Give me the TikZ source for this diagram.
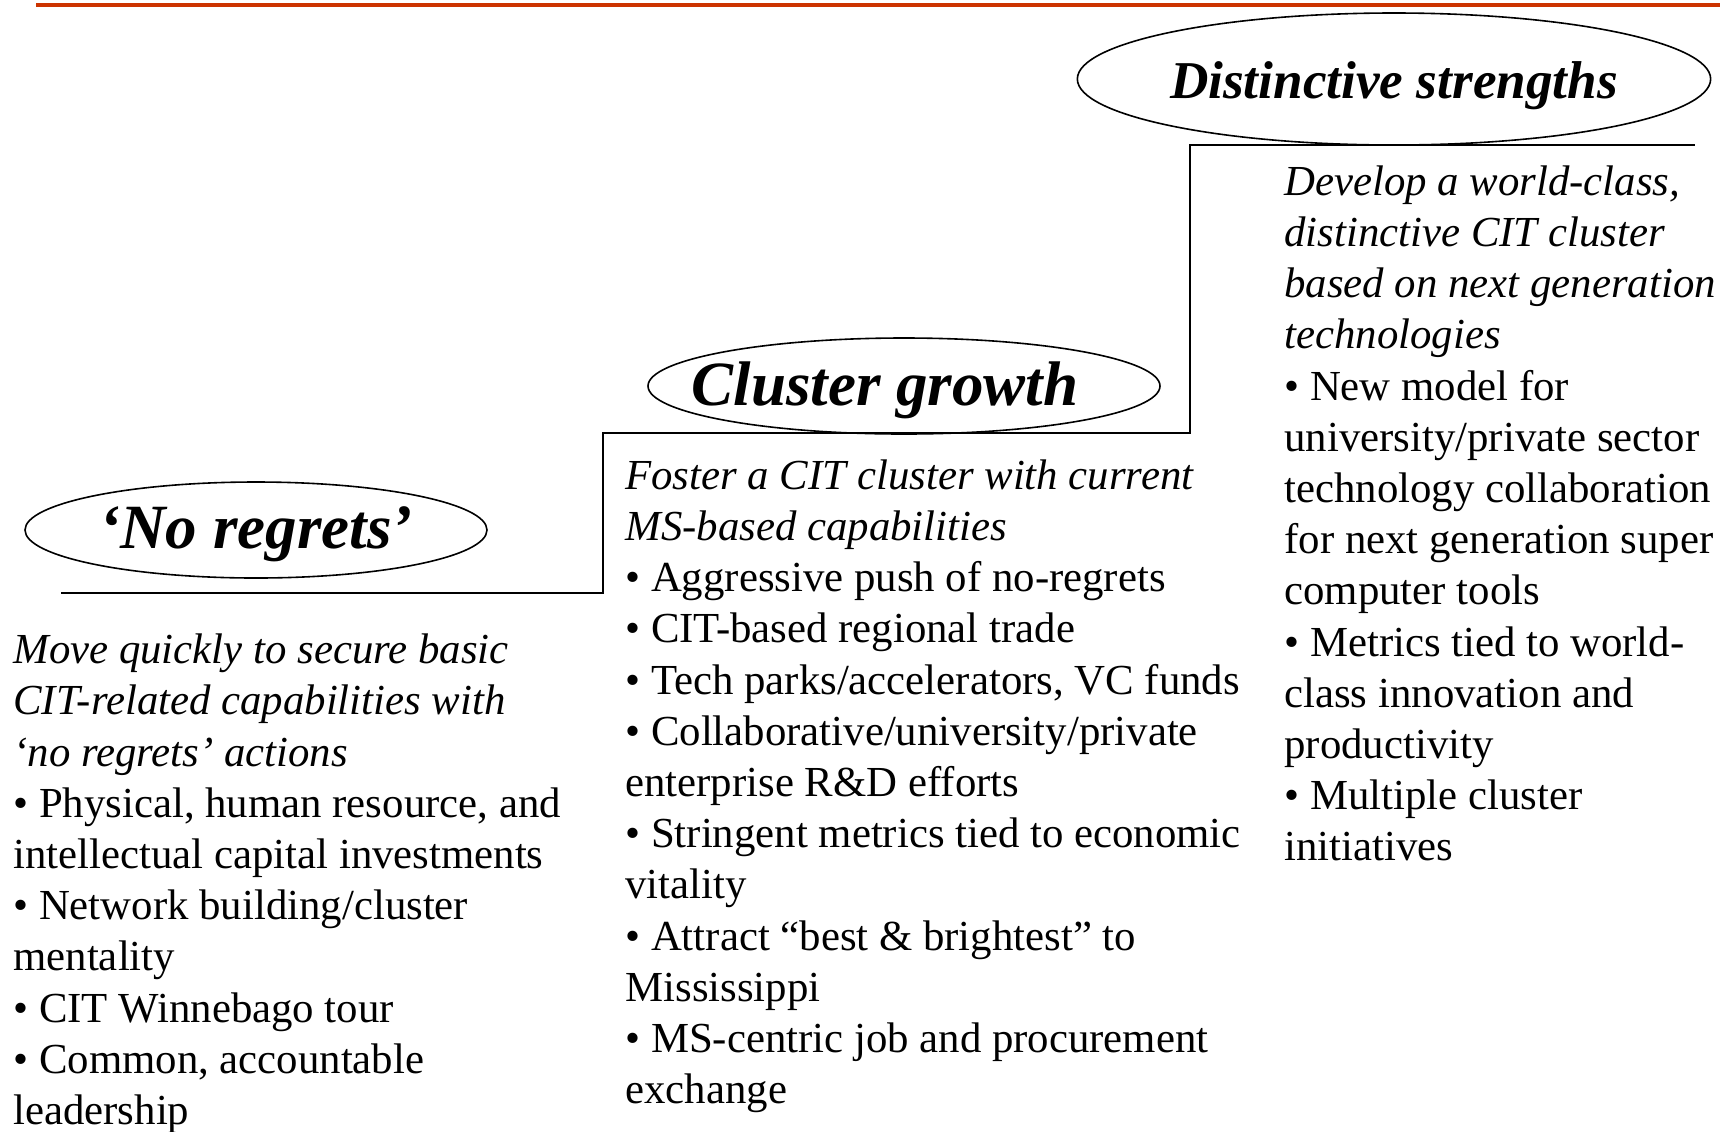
\documentclass[tikz,border=0pt]{standalone}
\usepackage{fontspec}
\setmainfont{Liberation Serif}
\usetikzlibrary{shapes.geometric}
\definecolor{barred}{RGB}{204,51,0}
\newcommand{\lowertitle}[2]{\raisebox{-#1}[\height][\depth]{#2}}
\tikzset{
  stage/.style={draw, ellipse, line width=0.8pt, inner sep=0pt, font=\bfseries\itshape},
  stepline/.style={line width=1.1pt},
  column/.style={anchor=base west, align=left, inner sep=0pt,
    font=\fontsize{21.4}{25.6}\selectfont}
}
\begin{document}
\begin{tikzpicture}[x=0.5pt, y=-0.5pt]
    \useasboundingbox (0,0) rectangle (1720,1131);
    % Top bar
    \draw[barred, line width=2pt] (36,4.5) -- (1720,4.5);

    % Staircase
    \coordinate (s0) at (61,593);
    \coordinate (s1) at (603,593);
    \coordinate (s2) at (603,433);
    \coordinate (s3) at (1190,433);
    \coordinate (s4) at (1190,145);
    \coordinate (s5) at (1695,145);
    \draw[stepline] (s0) -- (s1) -- (s2) -- (s3) -- (s4) -- (s5);

    % Stages
    \node[stage, minimum width=231pt, minimum height=48pt,
          font=\bfseries\itshape\fontsize{31.5}{34}\selectfont]
        (noregrets) at (256,530) {\lowertitle{2.2pt}{‘No regrets’}};
    \node[stage, minimum width=256pt, minimum height=48pt,
          font=\bfseries\itshape\fontsize{31.5}{34}\selectfont]
        (growth) at (904,386) {\hspace*{-19pt}\lowertitle{2.2pt}{Cluster growth}};
    \node[stage, minimum width=311pt, minimum height=66pt,
          font=\bfseries\itshape\fontsize{26.6}{30}\selectfont]
        (strengths) at (1394,79) {\lowertitle{3.3pt}{Distinctive strengths}};

    % Columns (anchored at the baseline of the last line)
    \node[column] (noregretstext) at (13,1124.4) {%
        \textit{Move quickly to secure basic}\\
        \textit{CIT-related capabilities with}\\
        \textit{‘no regrets’ actions}\\
        • Physical, human resource, and\\
        intellectual capital investments\\
        • Network building/cluster\\
        mentality\\
        • CIT Winnebago tour\\
        • Common, accountable\\
        leadership};
    \node[column] (growthtext) at (625,1103.6) {%
        \textit{Foster a CIT cluster with current}\\
        \textit{MS-based capabilities}\\
        • Aggressive push of no-regrets\\
        • CIT-based regional trade\\
        • Tech parks/accelerators, VC funds\\
        • Collaborative/university/private\\
        enterprise R\&D efforts\\
        • Stringent metrics tied to economic\\
        vitality\\
        • Attract “best \& brightest” to\\
        Mississippi\\
        • MS-centric job and procurement\\
        exchange};
    \node[column] (strengthstext) at (1284,860.8) {%
        \textit{Develop a world-class,}\\
        \textit{distinctive CIT cluster}\\
        \textit{based on next generation}\\
        \textit{technologies}\\
        • New model for\\
        university/private sector\\
        technology collaboration\\
        for next generation super\\
        computer tools\\
        • Metrics tied to world-\\
        class innovation and\\
        productivity\\
        • Multiple cluster\\
        initiatives};
\end{tikzpicture}
\end{document}
